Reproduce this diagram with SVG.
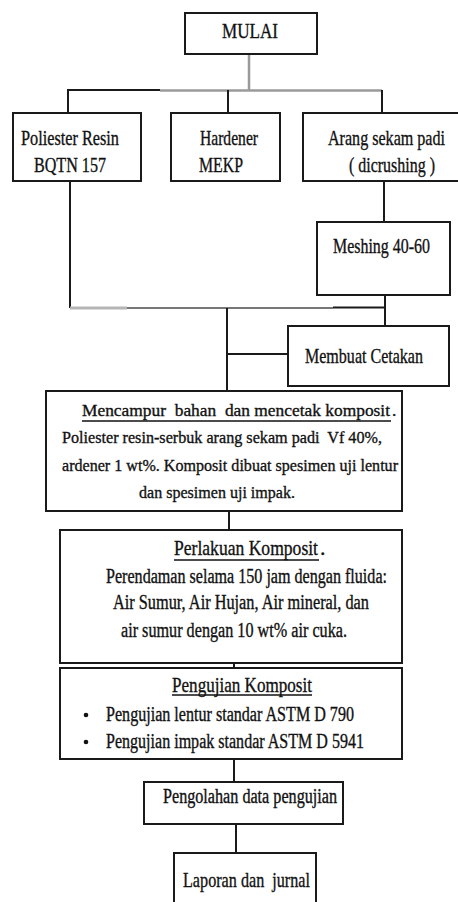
<svg xmlns="http://www.w3.org/2000/svg" width="458" height="902" viewBox="0 0 458 902">
<style>
  .box{fill:#fff;stroke:#1a1a1a;stroke-width:2}
  .ln{stroke:#1a1a1a;stroke-width:2;fill:none}
  .gr{stroke:#9a9a9a;stroke-width:2.5;fill:none}
  .gr2{stroke:#777;stroke-width:2;fill:none}
  .lg{stroke:#b5b5b5;stroke-width:3;fill:none}
  text{font-family:'Liberation Serif','Times New Roman',serif;fill:#111;white-space:pre;stroke:#111;stroke-width:0.35}
  .t22{font-size:22px}
  .t20{font-size:20px}
  .t17{font-size:17.5px}
  .ul{stroke:#111;stroke-width:1.3}
</style>
<rect width="458" height="902" fill="#fff"/>
<g id="connectors">
  <line class="gr" x1="249" y1="54" x2="249" y2="90"/>
  <line class="ln" x1="68" y1="90" x2="160" y2="90"/>
  <line class="gr" x1="160" y1="90.5" x2="382" y2="90.5"/>
  <line class="ln" x1="68" y1="89" x2="68" y2="113"/>
  <line class="ln" x1="228" y1="90" x2="228" y2="113"/>
  <line class="ln" x1="382" y1="90" x2="382" y2="113"/>
  <line class="ln" x1="70" y1="181" x2="70" y2="308"/>
  <line class="ln" x1="384" y1="181" x2="384" y2="222"/>
  <line class="ln" x1="385" y1="295" x2="385" y2="326"/>
  <line class="lg" x1="70" y1="308" x2="127" y2="308"/>
  <line class="gr2" x1="127" y1="308" x2="333" y2="308"/>
  <line class="ln" x1="333" y1="307.5" x2="386" y2="307.5"/>
  <line class="ln" x1="227" y1="308" x2="227" y2="391"/>
  <line class="ln" x1="227" y1="354" x2="288" y2="354"/>
  <line class="ln" x1="229" y1="511" x2="229" y2="530"/>
  <line class="ln" x1="234" y1="659" x2="234" y2="673" stroke-width="1.2"/>
  <line class="ln" x1="234" y1="759" x2="234" y2="782"/>
  <line class="ln" x1="236" y1="824" x2="236" y2="853"/>
</g>
<g id="mulai">
  <rect class="box" x="185" y="13" width="132" height="41"/>
  <text class="t22" x="222" y="38" textLength="56" lengthAdjust="spacingAndGlyphs">MULAI</text>
</g>
<g id="poliester">
  <rect class="box" x="13" y="113" width="128" height="68"/>
  <text class="t22" x="21" y="145" textLength="98" lengthAdjust="spacingAndGlyphs">Poliester Resin</text>
  <text class="t22" x="34" y="172" textLength="72" lengthAdjust="spacingAndGlyphs">BQTN 157</text>
</g>
<g id="hardener">
  <rect class="box" x="171" y="113" width="109" height="68"/>
  <text class="t22" x="200" y="145" textLength="58" lengthAdjust="spacingAndGlyphs">Hardener</text>
  <text class="t22" x="199" y="172" textLength="44" lengthAdjust="spacingAndGlyphs">MEKP</text>
</g>
<g id="arang">
  <rect class="box" x="303" y="113" width="170" height="68"/>
  <text class="t22" x="328" y="145" textLength="117" lengthAdjust="spacingAndGlyphs">Arang sekam padi</text>
  <text class="t22" x="349" y="172" textLength="86" lengthAdjust="spacingAndGlyphs">( dicrushing )</text>
</g>
<g id="meshing">
  <rect class="box" x="317" y="222" width="133" height="73"/>
  <text class="t22" x="333" y="253" textLength="97" lengthAdjust="spacingAndGlyphs">Meshing 40-60</text>
</g>
<g id="cetakan">
  <rect class="box" x="288" y="326" width="161" height="60"/>
  <text class="t22" x="305" y="363" textLength="118" lengthAdjust="spacingAndGlyphs">Membuat Cetakan</text>
</g>
<g id="mencampur">
  <rect class="box" x="46" y="391" width="356" height="120"/>
  <text class="t17" x="82" y="416" textLength="308" lengthAdjust="spacingAndGlyphs">Mencampur  bahan  dan mencetak komposit</text>
  <text class="t17" x="392" y="416">.</text>
  <line class="ul" x1="82" y1="421" x2="391" y2="421"/>
  <text class="t17" x="62" y="443" textLength="320" lengthAdjust="spacingAndGlyphs">Poliester resin-serbuk arang sekam padi  Vf 40%,</text>
  <text class="t17" x="62" y="471" textLength="336" lengthAdjust="spacingAndGlyphs">ardener 1 wt%. Komposit dibuat spesimen uji lentur</text>
  <text class="t17" x="139" y="498" textLength="156" lengthAdjust="spacingAndGlyphs">dan spesimen uji impak.</text>
</g>
<g id="perlakuan">
  <rect class="box" x="60" y="530" width="342" height="133"/>
  <text class="t22" x="174" y="555" textLength="144" lengthAdjust="spacingAndGlyphs">Perlakuan Komposit</text>
  <text class="t22" x="320" y="555">.</text>
  <line class="ul" x1="174" y1="560" x2="319" y2="560"/>
  <text class="t20" x="106" y="583" textLength="281" lengthAdjust="spacingAndGlyphs">Perendaman selama 150 jam dengan fluida:</text>
  <text class="t20" x="113" y="609" textLength="256" lengthAdjust="spacingAndGlyphs">Air Sumur, Air Hujan, Air mineral, dan</text>
  <text class="t20" x="121" y="637" textLength="226" lengthAdjust="spacingAndGlyphs">air sumur dengan 10 wt% air cuka.</text>
</g>
<g id="pengujian">
  <rect class="box" x="60" y="668" width="342" height="91"/>
  <text class="t22" x="172" y="692" textLength="140" lengthAdjust="spacingAndGlyphs">Pengujian Komposit</text>
  <line class="ul" x1="172" y1="695" x2="312" y2="695"/>
  <circle cx="86" cy="715" r="2.3" fill="#111"/>
  <text class="t20" x="106" y="721" textLength="248" lengthAdjust="spacingAndGlyphs">Pengujian lentur standar ASTM D 790</text>
  <circle cx="86" cy="742" r="2.3" fill="#111"/>
  <text class="t20" x="106" y="748" textLength="258" lengthAdjust="spacingAndGlyphs">Pengujian impak standar ASTM D 5941</text>
</g>
<g id="pengolahan">
  <rect class="box" x="144" y="782" width="199" height="42"/>
  <text class="t20" x="163" y="803" textLength="174" lengthAdjust="spacingAndGlyphs">Pengolahan data pengujian</text>
</g>
<g id="laporan">
  <rect class="box" x="174" y="853" width="142" height="60"/>
  <text class="t22" x="183" y="887" textLength="127" lengthAdjust="spacingAndGlyphs">Laporan dan  jurnal</text>
</g>
</svg>
